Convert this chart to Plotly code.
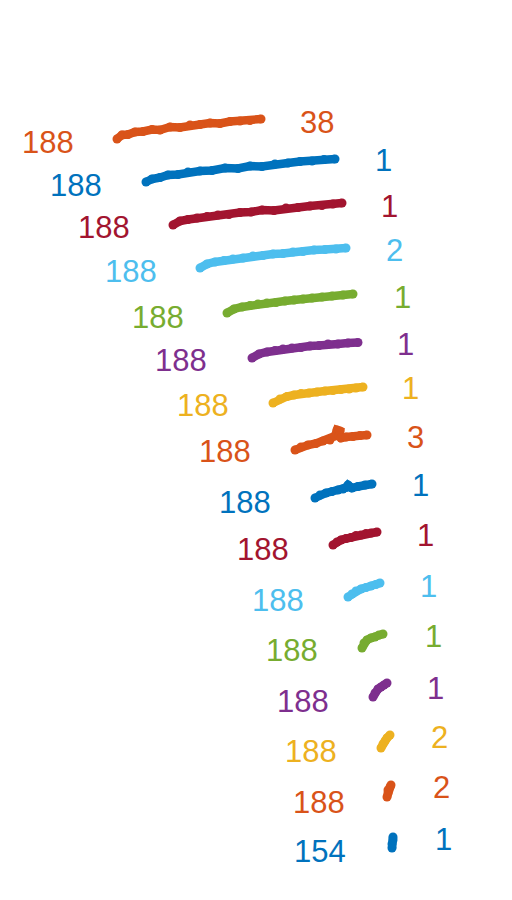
import plotly.graph_objects as go

colors = ["#D95319", "#0072BD", "#A2142F", "#4DBEEE", "#77AC30", "#7E2F8E", "#EDB120",
          "#D95319", "#0072BD", "#A2142F", "#4DBEEE", "#77AC30", "#7E2F8E", "#EDB120",
          "#D95319", "#0072BD"]

start_labels = ["188"] * 15 + ["154"]
end_labels = ["38", "1", "1", "2", "1", "1", "1", "3", "1", "1", "1", "1", "1", "2", "2", "1"]

# traced series (projected view coordinates)
series_x = [
    [117, 122, 128, 135, 143, 152, 160, 170, 180, 190, 200, 210, 220, 230, 240, 250, 261],
    [146, 152, 160, 168, 178, 188, 200, 212, 225, 238, 250, 262, 275, 288, 300, 312, 324, 335],
    [173, 180, 188, 197, 207, 218, 229, 240, 251, 262, 274, 286, 298, 310, 322, 333, 342],
    [200, 207, 215, 224, 233, 243, 253, 263, 273, 283, 293, 303, 314, 325, 336, 346],
    [227, 234, 242, 250, 258, 267, 276, 285, 294, 303, 312, 322, 332, 343, 353],
    [252, 259, 267, 275, 283, 292, 301, 310, 319, 328, 338, 348, 358],
    [273, 280, 287, 294, 301, 309, 317, 325, 333, 341, 349, 356, 363],
    [295, 301, 308, 316, 323, 330, 335, 337, 340, 339, 341, 346, 353, 360, 367],
    [315, 320, 326, 332, 338, 343, 346, 348, 350, 352, 358, 365, 372],
    [333, 337, 341, 346, 351, 356, 361, 366, 371, 377],
    [348, 352, 356, 361, 366, 371, 376, 380],
    [362, 364, 367, 371, 375, 379, 383],
    [373, 375, 378, 381, 384, 387],
    [381, 383, 385, 387, 390],
    [387, 388, 388, 390, 391],
    [392, 392, 393, 393],
]
series_y = [
    [139, 135, 134.5, 132, 131.5, 129.5, 130, 127, 127.5, 125, 124.5, 123, 123.5, 121.5, 121, 120.5, 119],
    [182, 179, 177.5, 175, 174.5, 172, 171, 170.5, 168, 168.5, 166, 166.5, 164, 163, 161.5, 161, 159.5, 159],
    [225, 221, 219.5, 218, 216.5, 215, 214.5, 212.5, 212, 210, 210.5, 208, 207.5, 206, 205.5, 204, 203],
    [268, 264, 262, 260.5, 259, 258, 256, 255.5, 254, 253.5, 252, 251.5, 250, 249.5, 249, 248],
    [313, 309, 307, 305.5, 304, 303, 302.5, 301, 300, 299, 298, 297, 296, 295, 294],
    [358, 354, 352, 350.5, 349, 348, 347.5, 346, 345.5, 344, 344, 343, 342.5],
    [403, 399, 396.5, 395, 393.5, 393, 392, 391, 390.5, 389.5, 389, 388, 387],
    [450, 447, 445, 443.5, 441, 440, 436, 430, 431, 436, 438, 437, 436.5, 435.5, 435],
    [498, 495, 493, 491.5, 490, 489, 487.5, 485, 487, 488, 486.5, 485, 484],
    [545, 542, 540, 538.5, 537.5, 535.5, 535, 533.5, 533, 532],
    [597, 594, 591, 589, 587.5, 586, 584.5, 583],
    [648, 643, 640, 638, 637, 635, 634],
    [697, 693, 689, 687, 685, 683],
    [748, 744, 741, 738, 735],
    [797, 793, 790, 787, 785],
    [848, 844, 840, 837],
]

start_label_x = [48, 76, 104, 131, 158, 181, 203, 225, 245, 263, 278, 292, 303, 311, 319, 320]
start_label_y = [142, 185, 227, 271, 317, 360, 405, 451, 502, 549, 600, 650, 701, 751, 802, 851]
end_label_x = [317, 383, 389, 394, 402, 405, 410, 415, 420, 425, 428, 433, 435, 439, 441, 443]
end_label_y = [122, 160, 206, 250, 297, 344, 388, 437, 485, 535, 586, 636, 688, 737, 787, 839]

fig = go.Figure()
for i in range(len(series_x)):
    fig.add_trace(go.Scatter(
        x=series_x[i], y=series_y[i], mode="lines+markers",
        line=dict(color=colors[i], width=8.5),
        marker=dict(color=colors[i], size=9),
        showlegend=False, hoverinfo="skip"))

font_family = "Liberation Sans, Arial, sans-serif"
for i in range(len(series_x)):
    fig.add_annotation(x=start_label_x[i], y=start_label_y[i], text=start_labels[i],
                       showarrow=False, xanchor="center", yanchor="middle",
                       font=dict(family=font_family, size=31, color=colors[i]))
    fig.add_annotation(x=end_label_x[i], y=end_label_y[i], text=end_labels[i],
                       showarrow=False, xanchor="center", yanchor="middle",
                       font=dict(family=font_family, size=31, color=colors[i]))

fig.update_layout(
    width=512, height=900,
    margin=dict(l=0, r=0, t=0, b=0),
    paper_bgcolor="white", plot_bgcolor="white",
    xaxis=dict(range=[0, 512], visible=False, fixedrange=True),
    yaxis=dict(range=[900, 0], visible=False, fixedrange=True),
)

fig.write_html("out.html")
